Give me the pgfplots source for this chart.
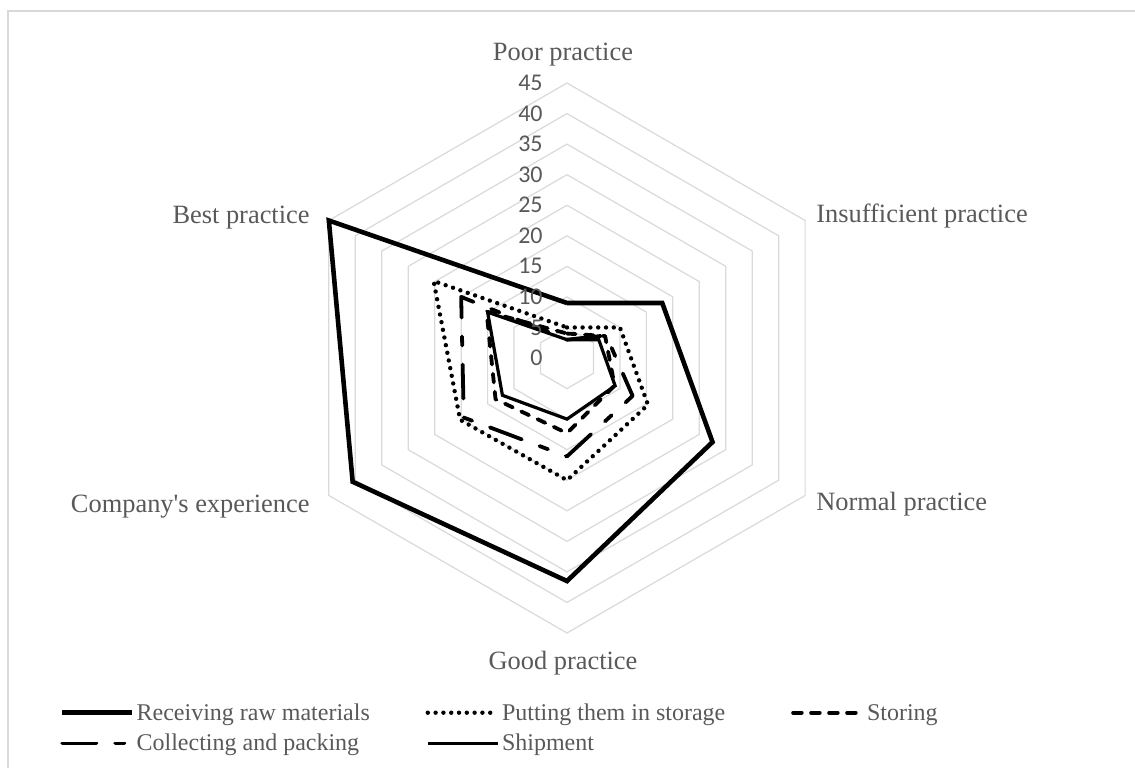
\documentclass[border=0pt]{standalone}
\usepackage{fontspec}
\setmainfont{Liberation Serif}
\newfontfamily\rawserif{Liberation Serif}[Ligatures=TeXOff]
\newfontfamily\calibri{Carlito}
\usepackage{pgfplots}
\pgfplotsset{compat=1.18}
\usepgfplotslibrary{polar}
\definecolor{gridc}{HTML}{D9D9D9}
\definecolor{txt}{HTML}{595959}
\begin{document}
\begin{tikzpicture}
\begin{polaraxis}[
  scale only axis, width=275pt, height=275pt,
  xmin=0, xmax=360, ymin=0, ymax=45,
  hide axis, clip=false,
  legend columns=3,
  legend cell align=left,
  legend style={draw=none, fill=none, inner sep=0pt, outer sep=0pt,
    at={(-0.4218,-0.1291)}, anchor=north west,
    row sep=4.35pt,
    nodes={inner sep=0pt, outer sep=0pt, text height=8pt, text depth=3pt,
      font=\fontsize{12}{14}\selectfont, text=txt},
    /tikz/every odd column/.append style={column sep=1pt},
  },
  legend image code/.code={\draw[#1] (0pt,1.15pt) -- (35pt,1.15pt);},
]
% hexagonal grid
\pgfplotsinvokeforeach{5,10,...,45}{
  \addplot[gridc, line width=0.6pt, forget plot] coordinates {(90,#1) (30,#1) (330,#1) (270,#1) (210,#1) (150,#1) (90,#1)};
}
% Receiving raw materials
\addplot[black, line width=2.3pt] coordinates {(90,9) (30,18) (330,27.5) (270,36.5) (210,40.5) (150,45) (90,9)};
\addlegendentry{\makebox[144.5pt][l]{Receiving raw materials}}
% Putting them in storage
\addplot[black, line width=2.2pt, line cap=round, dash pattern=on 0pt off 3.9pt] coordinates {(90,5) (30,10) (330,15.3) (270,20) (210,20.2) (150,25.2) (90,5)};
\addlegendentry{\makebox[144.6pt][l]{Putting them in storage}}
% Storing
\addplot[black, line width=1.9pt, line cap=round, line join=round, dash pattern=on 4.3pt off 4.7pt] coordinates {(90,4) (30,7.2) (330,9) (270,12.3) (210,13.5) (150,15.2) (90,4)};
\addlegendentry{Storing}
% Collecting and packing
\addplot[black, line width=1.9pt, line cap=round, line join=round, dash pattern=on 17pt off 9.5pt on 4.5pt off 9.5pt] coordinates {(90,3) (30,7.4) (330,12.4) (270,16.1) (210,19.5) (150,20) (90,3)};
\addlegendentry{Collecting and packing}
% Shipment
\addplot[black, line width=1.6pt] coordinates {(90,3) (30,6) (330,9.1) (270,10) (210,12.2) (150,15) (90,3)};
\addlegendentry{Shipment}
% radial tick labels
\pgfplotsinvokeforeach{0,5,...,45}{
  \node[anchor=east, xshift=-12pt, inner sep=0pt, text=txt, font=\calibri\fontsize{12}{14}\selectfont] at (axis cs:90,#1) {#1};
}
\coordinate (C) at (axis cs:0,0);
\end{polaraxis}
\begin{scope}[shift={(C)}, every node/.style={text=txt, inner sep=0pt, font=\fontsize{13.2}{15}\selectfont}]
\node[anchor=base] at (-2pt,148.5pt) {Poor practice};
\node[anchor=base west] at (124.5pt,67.5pt) {Insufficient practice};
\node[anchor=base west] at (124.5pt,-76pt) {Normal practice};
\node[anchor=base] at (-2pt,-155.5pt) {Good practice};
\node[anchor=base east] at (-128.5pt,-77pt) {{\rawserif Company's experience}};
\node[anchor=base east] at (-128.5pt,67pt) {Best practice};
\draw[gridc, line width=0.8pt] (-279.5pt,-210pt) -- (-279.5pt,173.5pt) -- (290pt,173.5pt);
\end{scope}
\pgfresetboundingbox
\path[shift={(C)}] (-283.5pt,-204.5pt) rectangle (284pt,179pt);
\end{tikzpicture}
\end{document}
